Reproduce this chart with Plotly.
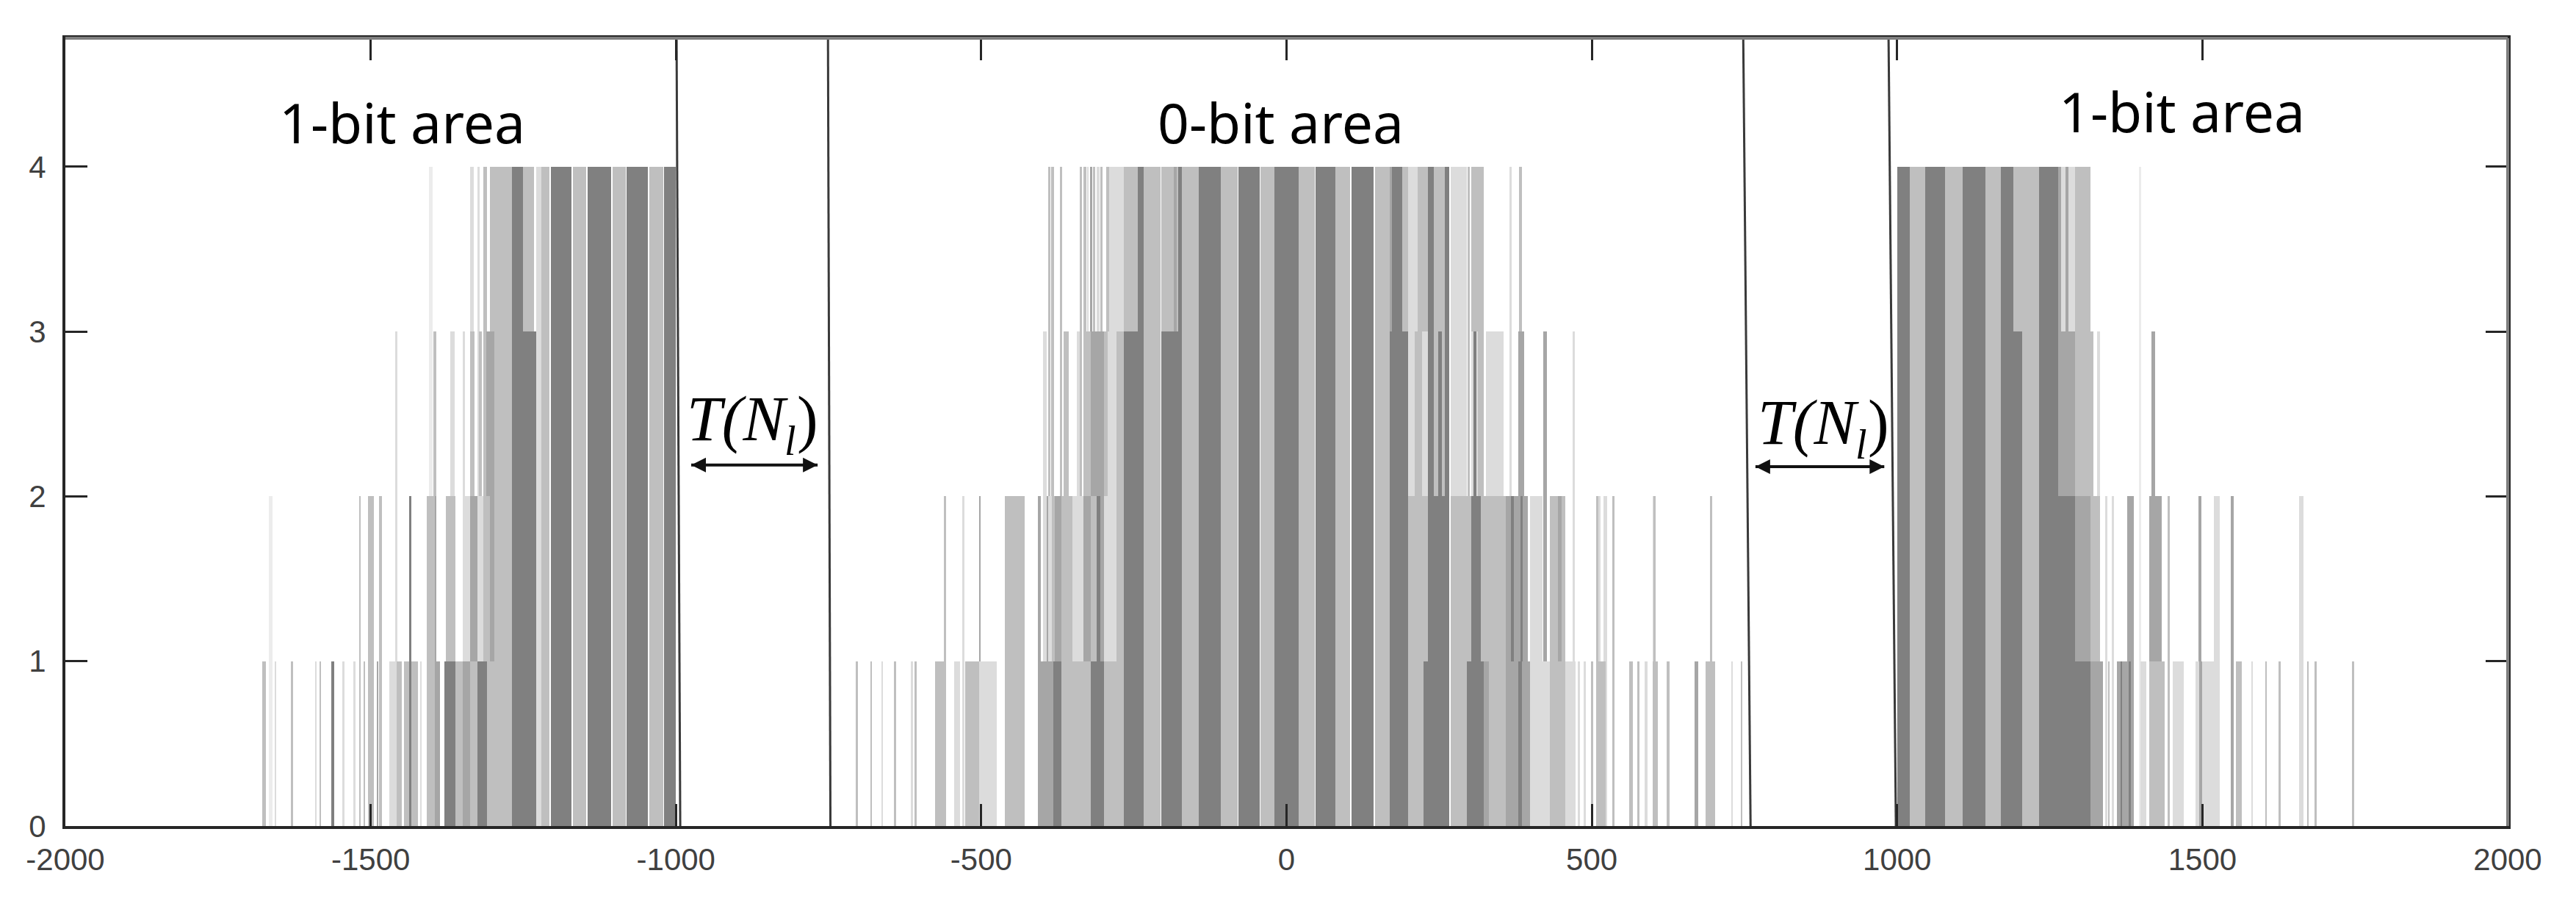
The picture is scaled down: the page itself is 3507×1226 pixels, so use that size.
import plotly.graph_objects as go

# ---------------- data (x intervals [start, end] in axis units) ----------------
LEVELS = [4, 3, 2, 1]

# height 4
h4_V = [[-1404, -1398], [1396, 1400]]
h4_P = [[-1337, -1331], [-1325, -1321], [-1229, -1221], [-290, -267], [-311, -306], [-327, -324],
        [199, 215], [269, 295], [365, 369], [1264, 1291]]
h4_L = [[-1316, -1310], [-1305, -1285], [-1285, -1269], [-1251, -1233], [-1221, -1207], [-1169, -1147],
        [-1104, -1082], [-1044, -1021],
        [-390, -387], [-385, -381], [-371, -368], [-339, -335], [-333, -328], [-317, -313], [-305, -301],
        [-295, -291], [-266, -244], [-234, -206], [-205, -185], [-180, -177], [-172, -144], [-108, -80],
        [-43, -20], [20, 46], [80, 104], [145, 169], [190, 199], [215, 231], [241, 259], [296, 300],
        [303, 323], [381, 385],
        [1021, 1046], [1079, 1107], [1145, 1170], [1190, 1233], [1291, 1317]]
h4_M = [[-321, -319], [-185, -180], [169, 173], [1264, 1268], [1276, 1280]]
h4_D = [[-1269, -1251], [-1205, -1171], [-1145, -1106], [-1081, -1046], [-1019, -1000],
        [-244, -234], [-177, -172], [-144, -108], [-79, -44], [-20, 20], [47, 80], [106, 143], [173, 190],
        [231, 241], [259, 267],
        [1000, 1021], [1046, 1079], [1107, 1145], [1170, 1190], [1233, 1264]]

# height 3
h3_V = []
h3_P = [[-1460, -1456], [-1370, -1363], [-1349, -1345], [-1229, -1222], [-399, -393], [-343, -339],
        [-293, -279], [199, 210], [222, 231], [269, 295], [303, 313], [327, 355], [468, 472], [1327, 1332]]
h3_L = [[-1397, -1392], [-1337, -1330], [-1323, -1318], [-1297, -1285], [-1285, -1269], [-365, -357],
        [-333, -321], [-299, -293], [-279, -267], [210, 222], [241, 259], [296, 300], [1205, 1233],
        [1291, 1317], [1317, 1321]]
h3_M = [[-1311, -1297], [-321, -299], [380, 389], [421, 427], [1264, 1291], [1417, 1423]]
h3_D = [[-1269, -1229], [-266, -234], [-205, -172], [169, 199], [231, 241], [248, 254], [259, 267],
        [306, 311], [1170, 1205]]

# height 2
h2_V = [[-1667, -1661]]
h2_P = [[-1349, -1337], [-1325, -1316], [-399, -384], [-351, -333], [-299, -279], [-531, -528],
        [399, 419], [510, 514], [519, 525], [600, 603], [1341, 1344], [1352, 1355], [1519, 1529],
        [1658, 1666]]
h2_L = [[-1519, -1516], [-1504, -1495], [-1486, -1482], [-1408, -1393], [-1377, -1361], [-1316, -1305],
        [-1297, -1269], [-561, -558], [-461, -429], [-384, -379], [-369, -351], [-321, -311], [-279, -267],
        [-230, -206], [199, 231], [269, 303], [321, 359], [431, 457], [507, 511], [533, 537], [601, 605],
        [693, 697], [1205, 1233], [1317, 1332], [1443, 1447]]
h2_M = [[-1395, -1392], [-1337, -1325], [-504, -501], [-407, -403], [-393, -390], [-379, -369],
        [-333, -321], [359, 395], [445, 450], [1291, 1317], [1377, 1388], [1413, 1433], [1494, 1498],
        [1547, 1551]]
h2_D = [[-1437, -1433], [-311, -305], [-266, -234], [231, 259], [259, 267], [303, 318], [368, 372],
        [383, 387], [1264, 1291]]

# height 1
h1_V = []
h1_P = [[-1657, -1655], [-1591, -1588], [-1547, -1543], [-1528, -1525], [-1469, -1460], [-1419, -1416],
        [-664, -661], [-615, -612], [-544, -535], [-503, -475], [399, 431], [457, 473], [477, 480],
        [487, 490], [587, 591], [728, 731], [1398, 1408], [1451, 1469], [1489, 1529], [1580, 1583]]
h1_L = [[-1678, -1672], [-1631, -1627], [-1584, -1581], [-1512, -1509], [-1458, -1449], [-1445, -1423],
        [-1361, -1349], [-1337, -1325], [-1309, -1297], [-705, -702], [-682, -679], [-643, -640],
        [-609, -606], [-576, -558], [-526, -503], [-457, -429], [-369, -321], [-299, -267], [199, 224],
        [269, 295], [331, 359], [431, 457], [499, 502], [509, 523], [561, 567], [575, 578], [600, 608],
        [622, 627], [686, 702], [744, 747], [1345, 1348], [1413, 1438], [1555, 1565], [1603, 1606],
        [1625, 1628], [1671, 1674], [1684, 1687], [1745, 1748]]
h1_M = [[-1490, -1487], [-1394, -1387], [-1349, -1337], [-406, -382], [323, 331], [359, 399],
        [668, 674], [1317, 1337], [1360, 1388], [1495, 1499], [1547, 1550]]
h1_D = [[-1564, -1560], [-1437, -1433], [-1379, -1361], [-1325, -1309], [-382, -369], [-321, -299],
        [-266, -234], [224, 259], [259, 267], [295, 323], [380, 386], [1264, 1317], [1366, 1369],
        [1379, 1383]]

GROUPS = {
    4: [h4_V, h4_P, h4_L, h4_M, h4_D],
    3: [h3_V, h3_P, h3_L, h3_M, h3_D],
    2: [h2_V, h2_P, h2_L, h2_M, h2_D],
    1: [h1_V, h1_P, h1_L, h1_M, h1_D],
}

# boundary lines (x at top, x at bottom)
boundary_top = [-999, -751, 748, 986]
boundary_bottom = [-993, -747, 760, 998]

# labels
area_labels = ["1-bit area", "0-bit area", "1-bit area"]
area_label_x = [-1449, -10, 1466]
area_label_y = [4.27, 4.27, 4.34]

gap_label_x = [-875, 879]
gap_label_y = [2.47, 2.45]
gap_arrows = [[-975, -768], [768, 979]]
gap_arrow_y = [2.19, 2.18]

x_ticks = [-2000, -1500, -1000, -500, 0, 500, 1000, 1500, 2000]
y_ticks = [0, 1, 2, 3, 4]
Y_MAX = 4.78

# ---------------- styles ----------------
SHADES = ["#ececec", "#dcdcdc", "#bfbfbf", "#a6a6a6", "#808080"]
UNITS_PER_PX = 4000 / (3507 - 89 - 93)
Y_PER_PX = Y_MAX / (1226 - 52 - 102)

fig = go.Figure()
for h in LEVELS:
    for shade, bands in zip(SHADES, GROUPS[h]):
        if not bands:
            continue
        xs = [(a + b) / 2 for a, b in bands]
        ws = [max(b - a, 3) for a, b in bands]
        fig.add_trace(go.Bar(
            x=xs, y=[h] * len(bands), width=ws, base=0,
            marker=dict(color=shade, line=dict(width=0)),
            showlegend=False, hoverinfo="skip",
        ))

for xt, xb in zip(boundary_top, boundary_bottom):
    fig.add_trace(go.Scatter(
        x=[xt, xb], y=[Y_MAX, 0], mode="lines",
        line=dict(color="#3a3a3a", width=3),
        showlegend=False, hoverinfo="skip", cliponaxis=False,
    ))

# double-headed arrows for the gap T(N_l)
for (a, b), y in zip(gap_arrows, gap_arrow_y):
    fig.add_trace(go.Scatter(
        x=[a, b], y=[y, y], mode="lines+markers",
        line=dict(color="#111111", width=4),
        marker=dict(symbol=["arrow-left", "arrow-right"], size=20, color="#111111",
                    line=dict(width=0)),
        showlegend=False, hoverinfo="skip",
    ))

annotations = []
for txt, x, y in zip(area_labels, area_label_x, area_label_y):
    annotations.append(dict(
        x=x, y=y, xref="x", yref="y", text=txt, showarrow=False,
        font=dict(family="Noto Sans", size=75, color="#000000"),
        xanchor="center", yanchor="middle",
    ))

# T(N_l): built from three plain-text pieces
MAIN_SIZE, SUB_SIZE = 86, 56
w_main = 1.556 * MAIN_SIZE      # "T(N" in serif italic
w_sub = 0.30 * SUB_SIZE         # "l"
w_close = 0.333 * MAIN_SIZE     # ")"
w_total = w_main + w_sub + w_close
for cx, cy in zip(gap_label_x, gap_label_y):
    left = cx - w_total / 2 * UNITS_PER_PX
    x_sub = left + w_main * UNITS_PER_PX
    x_close = x_sub + w_sub * UNITS_PER_PX
    common = dict(xref="x", yref="y", showarrow=False, xanchor="left", yanchor="middle",
                  borderpad=0, borderwidth=0)
    annotations.append(dict(x=left, y=cy, text="T(N",
                            font=dict(family="Liberation Serif", size=MAIN_SIZE, color="#000000",
                                      style="italic"), **common))
    annotations.append(dict(x=x_sub, y=cy - 30 * Y_PER_PX, text="l",
                            font=dict(family="Liberation Serif", size=SUB_SIZE, color="#000000",
                                      style="italic"), **common))
    annotations.append(dict(x=x_close, y=cy, text=")",
                            font=dict(family="Liberation Serif", size=MAIN_SIZE, color="#000000"),
                            **common))

fig.update_layout(
    width=3507, height=1226,
    margin=dict(l=89, r=93, t=52, b=102),
    paper_bgcolor="white", plot_bgcolor="white",
    barmode="overlay", bargap=0,
    annotations=annotations,
    xaxis=dict(
        range=[-2000, 2000], tickvals=x_ticks, ticktext=[str(v) for v in x_ticks],
        ticks="inside", ticklen=30, tickwidth=3, tickcolor="#262626",
        showline=True, linecolor="#262626", linewidth=4, mirror="ticks",
        showgrid=False, zeroline=False,
        tickfont=dict(family="Liberation Sans", size=42, color="#404040"),
        ticklabelstandoff=6,
    ),
    yaxis=dict(
        range=[0, Y_MAX], tickvals=y_ticks, ticktext=[str(v) for v in y_ticks],
        ticks="inside", ticklen=30, tickwidth=3, tickcolor="#262626",
        showline=True, linecolor="#262626", linewidth=4, mirror="ticks",
        showgrid=False, zeroline=False,
        tickfont=dict(family="Liberation Sans", size=42, color="#404040"),
        ticklabelstandoff=14,
    ),
    shapes=[
        dict(type="line", xref="paper", yref="paper", x0=0, x1=1, y0=1, y1=1,
             line=dict(color="#7f7f7f", width=4), layer="above"),
        dict(type="line", xref="paper", yref="paper", x0=1, x1=1, y0=0, y1=1,
             line=dict(color="#7f7f7f", width=4), layer="above"),
    ],
)

fig.write_html("out.html", config={"displayModeBar": False},
               post_script="document.body.style.margin='0';")
